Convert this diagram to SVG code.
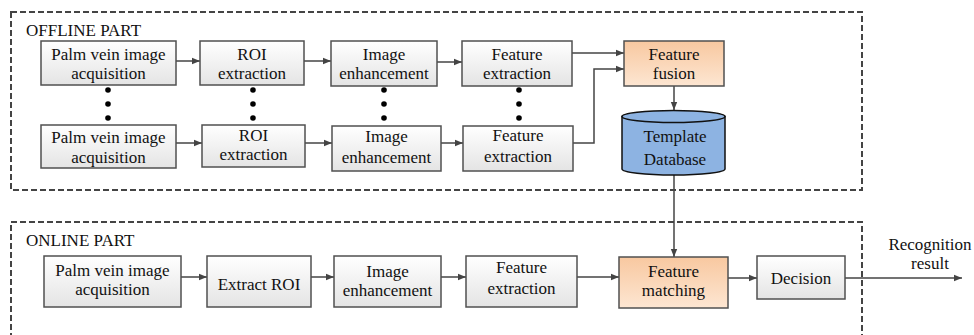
<svg xmlns="http://www.w3.org/2000/svg" width="974" height="335" viewBox="0 0 974 335" font-family="'Liberation Serif', 'Times New Roman', serif">
<style>
text{font-family:"Liberation Serif",serif;font-size:17px;fill:#111}
.box{stroke:#505050;stroke-width:1.5}
.g{fill:url(#gray)}
.o{fill:url(#orange)}
.t{text-anchor:middle}
.dash{fill:none;stroke:#444;stroke-width:2;stroke-dasharray:6 3}
.c{fill:none;stroke:#444;stroke-width:1.5;marker-end:url(#ah)}
.dot{fill:#000}
</style>
<defs>
<linearGradient id="gray" x1="0" y1="0" x2="0" y2="1">
<stop offset="0" stop-color="#ffffff"/><stop offset="1" stop-color="#e4e4e4"/>
</linearGradient>
<linearGradient id="orange" x1="0" y1="0" x2="0" y2="1">
<stop offset="0" stop-color="#f8c8a0"/><stop offset="1" stop-color="#fde6d2"/>
</linearGradient>
<marker id="ah" viewBox="0 0 8 8" refX="8" refY="4" markerWidth="8" markerHeight="8" markerUnits="userSpaceOnUse" orient="auto">
<path d="M0,0.8 L8,4 L0,7.2 Z" fill="#444"/>
</marker>
</defs>
<rect class="dash" x="11" y="12" width="851" height="178"/>
<rect class="dash" x="11" y="222" width="851" height="130"/>
<text x="26" y="36">OFFLINE PART</text>
<text x="26" y="246">ONLINE PART</text>

<g id="connectors">
<path class="c" d="M176,61 H200"/>
<path class="c" d="M304,61 H331"/>
<path class="c" d="M437,62 H462"/>
<path class="c" d="M572,53 H624"/>
<path class="c" d="M176,143 H202"/>
<path class="c" d="M305,143 H332"/>
<path class="c" d="M441,143 H463"/>
<path class="c" d="M573,143 H594 V69 H624"/>
<path class="c" d="M674,86 V110"/>
<path class="c" d="M674,175 V257"/>
<path class="c" d="M181,277 H207"/>
<path class="c" d="M311,277 H334"/>
<path class="c" d="M441,277 H466"/>
<path class="c" d="M577,277 H619"/>
<path class="c" d="M728,278 H757"/>
<path class="c" d="M845,278 H962"/>
</g>

<g id="dots">
<circle class="dot" cx="108" cy="90" r="2.8"/><circle class="dot" cx="108" cy="104" r="2.8"/><circle class="dot" cx="108" cy="118" r="2.8"/>
<circle class="dot" cx="253" cy="90" r="2.8"/><circle class="dot" cx="253" cy="104" r="2.8"/><circle class="dot" cx="253" cy="118" r="2.8"/>
<circle class="dot" cx="384" cy="90" r="2.8"/><circle class="dot" cx="384" cy="104" r="2.8"/><circle class="dot" cx="384" cy="118" r="2.8"/>
<circle class="dot" cx="519" cy="90" r="2.8"/><circle class="dot" cx="519" cy="104" r="2.8"/><circle class="dot" cx="519" cy="118" r="2.8"/>
</g>

<g id="off-acq1"><rect class="box g" x="41" y="41" width="135" height="44"/><text class="t" x="108.5" y="60">Palm vein image</text><text class="t" x="108.5" y="79">acquisition</text></g>
<g id="off-roi1"><rect class="box g" x="200" y="41" width="104" height="44"/><text class="t" x="252" y="60">ROI</text><text class="t" x="252" y="79">extraction</text></g>
<g id="off-ie1"><rect class="box g" x="331" y="41" width="106" height="45"/><text class="t" x="384" y="60">Image</text><text class="t" x="384" y="79">enhancement</text></g>
<g id="off-fe1"><rect class="box g" x="462" y="41" width="110" height="45"/><text class="t" x="517" y="60">Feature</text><text class="t" x="517" y="79">extraction</text></g>
<g id="fusion"><rect class="box o" x="624" y="41" width="100" height="45"/><text class="t" x="674" y="60">Feature</text><text class="t" x="674" y="79">fusion</text></g>

<g id="off-acq2"><rect class="box g" x="41" y="125" width="135" height="43"/><text class="t" x="108.5" y="143">Palm vein image</text><text class="t" x="108.5" y="163">acquisition</text></g>
<g id="off-roi2"><rect class="box g" x="202" y="125" width="103" height="42"/><text class="t" x="253.5" y="141">ROI</text><text class="t" x="253.5" y="160">extraction</text></g>
<g id="off-ie2"><rect class="box g" x="332" y="126" width="109" height="45"/><text class="t" x="386.5" y="142">Image</text><text class="t" x="386.5" y="163">enhancement</text></g>
<g id="off-fe2"><rect class="box g" x="463" y="126" width="110" height="45"/><text class="t" x="518" y="141">Feature</text><text class="t" x="518" y="162">extraction</text></g>

<g id="database">
<path d="M622,116.5 V169 A51.5,6 0 0 0 725,169 V116.5 Z" fill="#8db3e2" stroke="#111" stroke-width="1.5"/>
<ellipse cx="673.5" cy="116.5" rx="51.5" ry="6" fill="#8db3e2" stroke="#111" stroke-width="1.5"/>
<text class="t" x="675" y="142">Template</text><text class="t" x="675" y="165">Database</text>
</g>

<g id="on-acq"><rect class="box g" x="44" y="256" width="137" height="51"/><text class="t" x="112.5" y="276">Palm vein image</text><text class="t" x="112.5" y="295">acquisition</text></g>
<g id="on-roi"><rect class="box g" x="207" y="256" width="104" height="51"/><text class="t" x="259" y="290">Extract ROI</text></g>
<g id="on-ie"><rect class="box g" x="334" y="256" width="107" height="51"/><text class="t" x="387.5" y="277">Image</text><text class="t" x="387.5" y="296">enhancement</text></g>
<g id="on-fe"><rect class="box g" x="466" y="256" width="111" height="51"/><text class="t" x="521.5" y="273">Feature</text><text class="t" x="521.5" y="294">extraction</text></g>
<g id="matching"><rect class="box o" x="619" y="257" width="109" height="51"/><text class="t" x="673.5" y="277">Feature</text><text class="t" x="673.5" y="296">matching</text></g>
<g id="decision"><rect class="box g" x="757" y="256" width="88" height="43"/><text class="t" x="801" y="284">Decision</text></g>
<g id="result"><text class="t" x="930" y="250">Recognition</text><text class="t" x="930" y="269">result</text></g>
</svg>
